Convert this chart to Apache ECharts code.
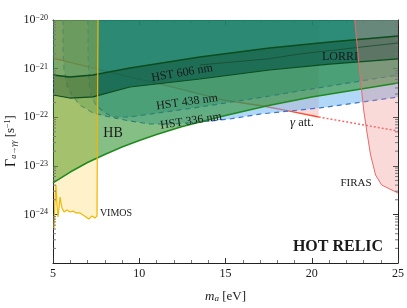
<!DOCTYPE html>
<html><head><meta charset="utf-8">
<script src="https://cdn.jsdelivr.net/npm/echarts@6/dist/echarts.min.js"></script>
<style>html,body{margin:0;padding:0;background:#fff}#c{width:407px;height:308px}</style>
</head><body><div id="c"></div>
<script>
// ---- data (m_a in eV, Gamma in s^-1) ----
const xTicks = [5, 10, 15, 20, 25];
const yTicks = [1e-25, 1e-24, 1e-23, 1e-22, 1e-21, 1e-20];

const hbMass  = [5, 6, 7, 8, 9, 10, 11, 12.5, 15, 17.5, 20, 22.5, 25];
const hbGamma = [4.43e-24, 7.45e-24, 1.17e-23, 1.71e-23, 2.44e-23, 3.32e-23, 4.41e-23, 6.44e-23, 1.08e-22, 1.74e-22, 2.61e-22, 3.63e-22, 5.06e-22];

const vimosMass  = [5.06, 5.12, 5.17, 5.23, 5.29, 5.35, 5.41, 5.46, 5.52, 5.64, 5.81, 5.98, 6.16, 6.33, 6.56, 6.74, 6.91, 7.08, 7.26, 7.43, 7.55, 7.61, 7.61];
const vimosGamma = [5.25e-25, 1.98e-24, 4.03e-24, 1.56e-24, 8.85e-25, 1.36e-24, 2.28e-24, 1.72e-24, 1.36e-24, 1.12e-24, 1.23e-24, 1.12e-24, 1.17e-24, 1.07e-24, 1.07e-24, 9.7e-25, 8.85e-25, 8.0e-25, 9.3e-25, 8.4e-25, 9.3e-25, 8.85e-25, 1e-20];

const hst438Mass  = [5.58, 5.58, 5.64, 5.81, 6.10, 6.56, 7.32, 8.30, 9.46, 13.51, 17.56, 21.04, 25];
const hst438Gamma = [1e-20, 2.41e-21, 9.35e-22, 4.60e-22, 2.86e-22, 1.78e-22, 1.22e-22, 1.01e-22, 1.01e-22, 1.62e-22, 2.73e-22, 4.39e-22, 7.38e-22];

const hst336Mass  = [7.03, 7.03, 7.08, 7.20, 7.49, 7.95, 8.59, 9.46, 10.62, 12.06, 13.51, 15.25, 16.99, 20.46, 25];
const hst336Gamma = [1e-20, 2.41e-21, 5.82e-22, 2.86e-22, 1.78e-22, 1.28e-22, 9.6e-23, 8.35e-23, 7.25e-23, 7.25e-23, 7.96e-23, 9.18e-23, 1.16e-22, 1.55e-22, 2.61e-22];

const hst606Mass     = [5, 5.98, 7.32, 9.46, 13.51, 17.56, 21.04, 25];
const hst606Top      = [7.38e-22, 6.71e-22, 7.38e-22, 1.03e-21, 1.73e-21, 2.65e-21, 3.52e-21, 4.69e-21];
const hst606Bottom   = [2.86e-22, 2.48e-22, 2.61e-22, 4.18e-22, 6.11e-22, 9.35e-22, 1.24e-21, 1.58e-21];

const lorriMass  = [13.51, 17.56, 19.30, 25];
const lorriGamma = [1.19e-21, 1.6e-21, 2.00e-21, 3.37e-21];

const attMass  = [5, 9.46, 11.95, 14.84, 17.16, 18.72, 20.4];
const attGamma = [1.65e-21, 6.71e-22, 4.18e-22, 2.26e-22, 1.70e-22, 1.34e-22, 1.01e-22];
const attDotMass  = [20.4, 25];
const attDotGamma = [1.01e-22, 5.2e-23];

const firasMass  = [22.49, 22.66, 22.83, 23.01, 23.18, 23.41, 23.70, 24.05, 25];
const firasGamma = [1e-20, 2.41e-21, 5.82e-22, 1.41e-22, 5.46e-23, 1.67e-23, 6.47e-24, 4.03e-24, 2.75e-24];

// ---- helpers ----
const X_MIN = 5, X_MAX = 25, G_MIN = 1e-25, G_MAX = 1e-20;
const FONT = '"Liberation Serif", "DejaVu Serif", serif';
const TXT = '#1a1a1a';

function areaAbove(xs, ys, color, z) {
  return {type: 'custom', z, silent: true, clip: true, coordinateSystem: 'cartesian2d',
    data: [[xs[0], ys[0]]],
    renderItem: (p, api) => {
      const pts = xs.map((x, i) => api.coord([x, ys[i]]));
      pts.push(api.coord([xs[xs.length - 1], G_MAX]));
      pts.push(api.coord([xs[0], G_MAX]));
      return {type: 'polygon', shape: {points: pts}, style: {fill: color}};
    }};
}
function band(xs, top, bot, color, z) {
  return {type: 'custom', z, silent: true, clip: true, coordinateSystem: 'cartesian2d',
    data: [[xs[0], top[0]]],
    renderItem: (p, api) => {
      const pts = xs.map((x, i) => api.coord([x, top[i]]));
      for (let i = xs.length - 1; i >= 0; i--) pts.push(api.coord([xs[i], bot[i]]));
      return {type: 'polygon', shape: {points: pts}, style: {fill: color}};
    }};
}
function line(xs, ys, color, width, type, z) {
  return {type: 'line', z, silent: true, symbol: 'none', showSymbol: false,
    data: xs.map((x, i) => [x, ys[i]]),
    lineStyle: {color, width, type}};
}
const minorVals = [];
for (let e = -25; e < -20; e++) for (let k = 2; k <= 9; k++) minorVals.push([X_MIN, k * Math.pow(10, e)]);

function yLabel(v) {
  const e = Math.round(Math.log10(v));
  return '{b|10}{s|−' + (-e) + '}';
}

const chart = echarts.init(document.getElementById('c'), null, {renderer: 'canvas'});
const axisCommon = {
  axisLine: {show: true, onZero: false, lineStyle: {color: '#222', width: 1}},
  axisTick: {show: true, inside: true, length: 5, lineStyle: {color: '#333'}},
  splitLine: {show: false}
};
chart.setOption({
  animation: false,
  grid: {left: 53, right: 9, top: 20, bottom: 45, containLabel: false, outerBoundsMode: 'none'},
  xAxis: [
    Object.assign({type: 'value', min: X_MIN, max: X_MAX, interval: 5, position: 'bottom',
      minorTick: {show: true, splitNumber: 5, length: 3, lineStyle: {color: '#777'}},
      axisLabel: {fontFamily: FONT, fontSize: 12, color: TXT, margin: 5},
      name: '{i|m}{sub|a} [eV]', nameLocation: 'middle', nameGap: 27,
      nameTextStyle: {fontFamily: FONT, fontSize: 13, color: TXT,
        rich: {i: {fontFamily: FONT, fontStyle: 'italic', fontSize: 13, color: TXT},
               sub: {fontFamily: FONT, fontStyle: 'italic', fontSize: 9, color: TXT, verticalAlign: 'bottom'}}}
    }, axisCommon),
    Object.assign({type: 'value', min: X_MIN, max: X_MAX, interval: 5, position: 'top',
      minorTick: {show: true, splitNumber: 5, length: 3, lineStyle: {color: '#777'}},
      axisLabel: {show: false}}, axisCommon)
  ],
  yAxis: [
    Object.assign({type: 'log', logBase: 10, min: G_MIN, max: G_MAX, position: 'left',
      axisLabel: {formatter: yLabel, margin: 5, fontFamily: FONT, color: TXT,
        rich: {b: {fontFamily: FONT, fontSize: 12, color: TXT},
               s: {fontFamily: FONT, fontSize: 8, color: TXT, verticalAlign: 'top'}}}
    }, axisCommon),
    Object.assign({type: 'log', logBase: 10, min: G_MIN, max: G_MAX, position: 'right',
      axisLabel: {show: false}}, axisCommon)
  ],
  series: [
    areaAbove(attMass, attGamma, 'rgba(240,128,128,0.3)', 1),
    line(attMass, attGamma, '#ff4a30', 1.3, 'solid', 2),
    line(attDotMass, attDotGamma, '#f06a6a', 1.5, [2, 2], 2),
    areaAbove(hst336Mass, hst336Gamma, 'rgba(100,180,240,0.5)', 3),
    areaAbove(hst438Mass, hst438Gamma, 'rgba(30,130,170,0.35)', 4),
    line(hst336Mass, hst336Gamma, '#3d74d6', 1.2, [5, 4], 5),
    line(hst438Mass, hst438Gamma, '#3d74d6', 1.2, [5, 4], 5),
    areaAbove(hbMass, hbGamma, 'rgba(34,139,34,0.55)', 6),
    areaAbove(hst606Mass, hst606Bottom, 'rgba(0,110,120,0.4)', 7),
    band(hst606Mass, hst606Top, hst606Bottom, 'rgba(0,60,30,0.35)', 8),
    areaAbove(vimosMass, vimosGamma, 'rgba(255,200,40,0.25)', 9),
    areaAbove(firasMass, firasGamma, 'rgba(240,128,128,0.3)', 10),
    line(hbMass, hbGamma, '#1f8a1f', 1.5, 'solid', 11),
    line(hst606Mass, hst606Top, '#0b4d1e', 1.6, 'solid', 11),
    line(hst606Mass, hst606Bottom, '#0b4d1e', 1.2, 'solid', 11),
    line(lorriMass, lorriGamma, '#1a4a30', 0.8, 'solid', 11),
    line(firasMass, firasGamma, '#e86a6a', 1, 'solid', 12),
    line(vimosMass, vimosGamma, '#f2b705', 1.2, 'solid', 12),
    {type: 'custom', z: 13, silent: true, coordinateSystem: 'cartesian2d', data: minorVals,
      renderItem: (p, api) => {
        const v = api.value(1);
        const a = api.coord([X_MIN, v]), b = api.coord([X_MAX, v]);
        return {type: 'group', children: [
          {type: 'line', shape: {x1: a[0], y1: a[1], x2: a[0] + 3, y2: a[1]}, style: {stroke: '#777', lineWidth: 1}},
          {type: 'line', shape: {x1: b[0], y1: b[1], x2: b[0] - 3, y2: b[1]}, style: {stroke: '#777', lineWidth: 1}}]};
      }}
  ],
  graphic: [
    {type: 'text', x: 11, y: 141, rotation: Math.PI / 2, z: 100,
      style: {text: '{g|Γ}{sub|a→γγ} {n|[s}{sup|−1}{n|]}', align: 'center', verticalAlign: 'middle', fill: TXT,
        font: '13px ' + FONT,
        rich: {g: {fontFamily: FONT, fontSize: 14, fill: TXT},
               n: {fontFamily: FONT, fontSize: 13, fill: TXT},
               sub: {fontFamily: FONT, fontStyle: 'italic', fontSize: 8, fill: TXT, verticalAlign: 'bottom'},
               sup: {fontFamily: FONT, fontSize: 8, fill: TXT, verticalAlign: 'top'}}}},
    {type: 'text', x: 182, y: 73, rotation: 0.166, z: 100, style: {text: 'HST 606 nm', font: '12px ' + FONT, fill: TXT, align: 'center', verticalAlign: 'middle'}},
    {type: 'text', x: 187, y: 102, rotation: 0.138, z: 100, style: {text: 'HST 438 nm', font: '12px ' + FONT, fill: TXT, align: 'center', verticalAlign: 'middle'}},
    {type: 'text', x: 191, y: 121, rotation: 0.147, z: 100, style: {text: 'HST 336 nm', font: '12px ' + FONT, fill: TXT, align: 'center', verticalAlign: 'middle'}},
    {type: 'text', x: 340, y: 57, z: 100, style: {text: 'LORRI', font: '12px ' + FONT, fill: TXT, align: 'center', verticalAlign: 'middle'}},
    {type: 'text', x: 302, y: 123, z: 100, style: {text: '{g|γ} att.', font: '12.5px ' + FONT, fill: TXT, align: 'center', verticalAlign: 'middle',
      rich: {g: {fontFamily: FONT, fontStyle: 'italic', fontSize: 13, fill: TXT}}}},
    {type: 'text', x: 113, y: 133, z: 100, style: {text: 'HB', font: '14px ' + FONT, fill: TXT, align: 'center', verticalAlign: 'middle'}},
    {type: 'text', x: 116, y: 213, z: 100, style: {text: 'VIMOS', font: '10px ' + FONT, fill: TXT, align: 'center', verticalAlign: 'middle'}},
    {type: 'text', x: 356, y: 183, z: 100, style: {text: 'FIRAS', font: '11px ' + FONT, fill: TXT, align: 'center', verticalAlign: 'middle'}},
    {type: 'text', x: 338, y: 247, z: 100, style: {text: 'HOT RELIC', font: 'bold 16px ' + FONT, fill: TXT, align: 'center', verticalAlign: 'middle'}}
  ]
});
</script></body></html>
